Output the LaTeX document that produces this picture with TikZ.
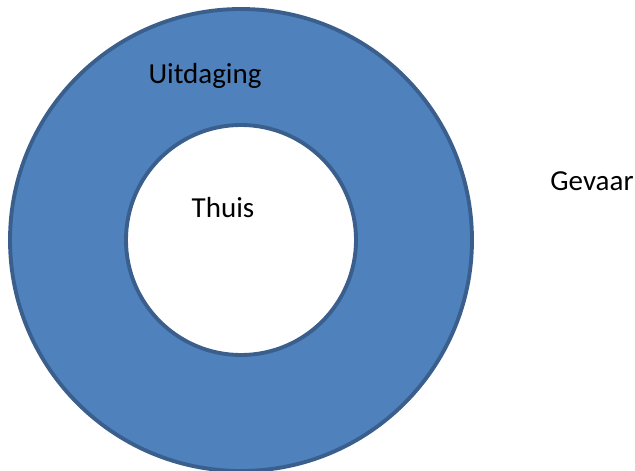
\documentclass[tikz,border=0pt]{standalone}
\usepackage{fontspec}
\setmainfont{Carlito}
\definecolor{ringfill}{HTML}{4F81BD}
\definecolor{ringline}{HTML}{3A5F8C}
\tikzset{
  ring/.style={circle, draw=ringline, line width=2.2pt, inner sep=0pt},
  label/.style={font=\fontsize{16.5}{19}\selectfont, inner sep=0pt}
}
\begin{document}
\begin{tikzpicture}
\useasboundingbox (0,0) rectangle (12.7,9.4);
\node[ring, fill=ringfill, minimum size=9.24cm] (uitdaging) at (4.82,4.6) {};
\node[ring, fill=white, minimum size=4.6cm] (thuis) at (4.82,4.6) {};
\node[label] (uitdagingtext) at (4.1,7.88) {Uitdaging};
\node[label] (thuistext) at (4.46,5.24) {Thuis};
\node[label] (gevaartext) at (11.84,5.78) {Gevaar};
\end{tikzpicture}
\end{document}
